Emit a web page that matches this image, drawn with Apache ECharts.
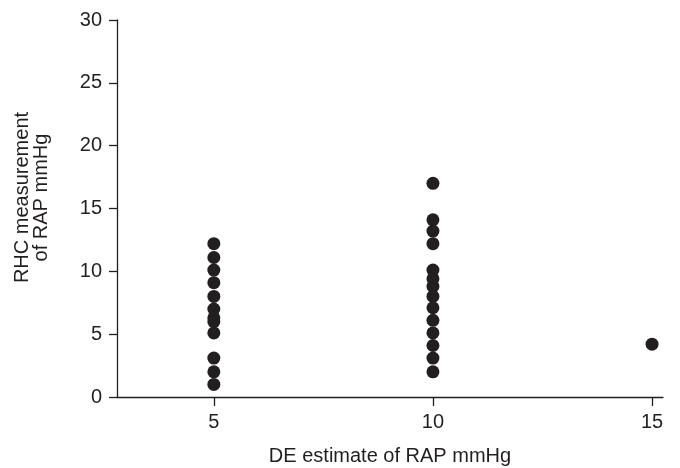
<!DOCTYPE html>
<html>
<head>
<meta charset="utf-8">
<script src="https://cdn.jsdelivr.net/npm/echarts@6/dist/echarts.min.js"></script>
<style>html,body{margin:0;padding:0;background:#fff;}#c{width:680px;height:468px;}</style>
</head>
<body>
<div id="c"></div>
<script>
const xTicks = [5, 10, 15];
const yTicks = [0, 5, 10, 15, 20, 25, 30];
const rapAt5 = [12.2, 11.1, 10.1, 9.1, 8.0, 7.0, 6.3, 6.0, 5.1, 3.1, 2.0, 1.0];
const rapAt10 = [17.0, 14.1, 13.2, 12.2, 10.1, 9.4, 8.8, 8.0, 7.1, 6.1, 5.1, 4.1, 3.1, 2.0];
const rapAt15 = [4.2];
const xTitle = 'DE estimate of RAP mmHg';
const yTitle = 'RHC measurement\nof RAP mmHg';

const points = []
  .concat(rapAt5.map(v => [5, v]))
  .concat(rapAt10.map(v => [10, v]))
  .concat(rapAt15.map(v => [15, v]));

const ink = '#231f20';
const font = 'Liberation Sans, Arial, sans-serif';
const fs = 20;

const chart = echarts.init(document.getElementById('c'), null, {renderer: 'canvas'});
chart.setOption({
  animation: false,
  backgroundColor: '#fff',
  grid: {left: 117, right: 17, top: 20, bottom: 71, containLabel: false, outerBoundsMode: 'none'},
  xAxis: {
    type: 'value',
    min: 2.79,
    max: 15.25,
    name: xTitle,
    nameLocation: 'middle',
    nameGap: 49,
    nameTextStyle: {color: ink, fontSize: fs, fontFamily: font},
    axisLine: {show: true, onZero: false, lineStyle: {color: ink, width: 1.3}},
    axisTick: {show: true, inside: false, length: 9, customValues: xTicks, lineStyle: {color: ink, width: 1.3}},
    axisLabel: {show: true, customValues: xTicks, margin: 15, color: ink, fontSize: fs, fontFamily: font},
    splitLine: {show: false}
  },
  yAxis: {
    type: 'value',
    min: 0,
    max: 30,
    interval: 5,
    name: yTitle,
    nameLocation: 'middle',
    nameGap: 66,
    nameTextStyle: {color: ink, fontSize: fs, fontFamily: font, lineHeight: 19, padding: [0, 0, 0, 22]},
    axisLine: {show: true, lineStyle: {color: ink, width: 1.3}},
    axisTick: {show: true, inside: false, length: 8, lineStyle: {color: ink, width: 1.3}},
    axisLabel: {show: true, margin: 15, color: ink, fontSize: fs, fontFamily: font,
      formatter: v => (yTicks.indexOf(v) >= 0 ? String(v) : '')},
    splitLine: {show: false}
  },
  series: [{
    type: 'scatter',
    data: points,
    symbol: 'circle',
    symbolSize: 13,
    itemStyle: {color: ink, opacity: 1}
  }]
});
</script>
</body>
</html>
